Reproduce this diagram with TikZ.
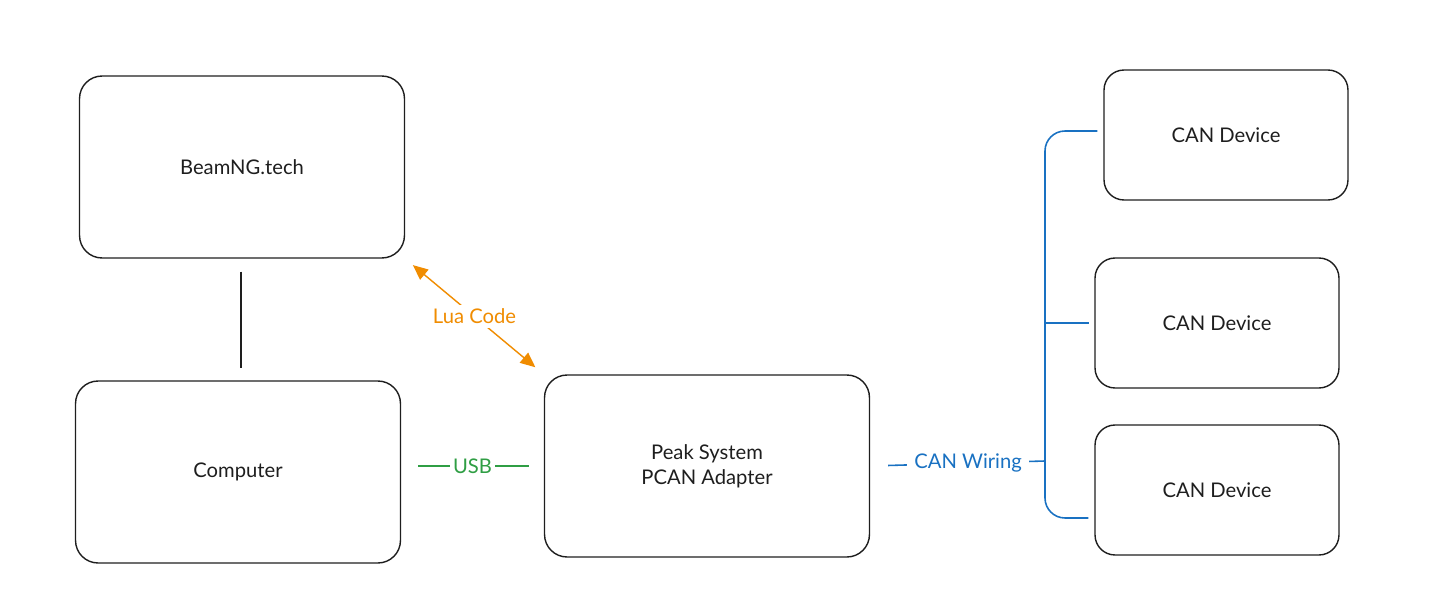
\documentclass[tikz,border=0pt]{standalone}
\usepackage{fontspec}
\setmainfont{Lato}
\usepackage{xcolor}
\usepackage{tikz}
\usetikzlibrary{arrows.meta,positioning,calc}
\definecolor{inkblack}{HTML}{1E1E1E}
\definecolor{luaorange}{HTML}{F08C00}
\definecolor{usbgreen}{HTML}{2F9E44}
\definecolor{canblue}{HTML}{1971C2}
\tikzset{
  sysbox/.style={draw=inkblack,line width=0.8pt,rounded corners=0.45cm,align=center,
    font=\fontsize{11.5}{14}\selectfont,text=inkblack},
  devbox/.style={sysbox,rounded corners=0.4cm,minimum width=4.88cm,minimum height=2.6cm},
  mainbox/.style={sysbox,minimum width=6.5cm,minimum height=3.64cm},
  wirelabel/.style={fill=white,inner sep=2pt,font=\fontsize{11.5}{14}\selectfont},
  luaarrow/.style={{Triangle[length=3mm,width=2.6mm]}-{Triangle[length=3mm,width=2.6mm]},
    draw=luaorange,line width=0.8pt,shorten >=0.2cm,shorten <=0.22cm},
  usbline/.style={draw=usbgreen,line width=0.9pt},
  canwire/.style={draw=canblue,line width=0.9pt}
}
\begin{document}
\begin{tikzpicture}[x=0.02cm,y=-0.02cm]
  \useasboundingbox (0,0) rectangle (1434,615);
  % left column
  \node[mainbox] (beamng) at (242,167) {BeamNG.tech};
  \node[mainbox] (computer) at (238,472) {Computer};
  \node[mainbox] (pcan) at (707,466) {Peak System\\PCAN Adapter};
  % CAN bus devices
  \node[devbox] (devA) at (1226,135) {CAN Device};
  \node[devbox] (devB) at (1217,323) {CAN Device};
  \node[devbox] (devC) at (1217,490) {CAN Device};
  % links
  \draw[draw=inkblack,line width=0.8pt,shorten >=0.24cm,shorten <=0.26cm] (beamng.south -| 241,0) -- (computer.north -| 241,0);
  \draw[luaarrow] (pcan.north west) -- node[wirelabel,text=luaorange] {Lua Code} (beamng.south east);
  \draw[usbline,shorten >=0.3cm,shorten <=0.34cm] (computer.east |- pcan.west) -- node[wirelabel,text=usbgreen] {USB} (pcan.west);
  \coordinate (bus) at (1045,461);
  \coordinate (tapA) at ($(devA.west)+(-6,-4)$);
  \coordinate (tapC) at ($(devC.west)+(-6,28)$);
  \draw[canwire,shorten <=0.36cm] (pcan.east) -- node[wirelabel,text=canblue,inner xsep=4pt,pos=0.56] {CAN Wiring} (bus);
  \draw[canwire,rounded corners=0.4cm] (tapA) -| (bus) |- (tapC);
  \draw[canwire] (bus |- devB.west) -- ($(devB.west)+(-5,0)$);
\end{tikzpicture}
\end{document}
